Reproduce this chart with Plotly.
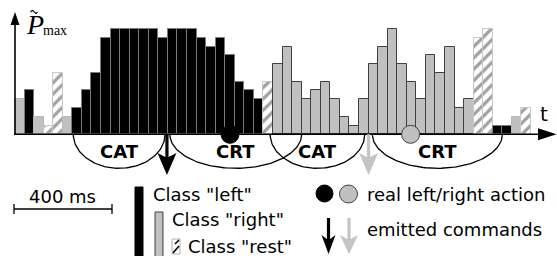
import numpy as np
import plotly.graph_objects as go

# ---------------- data ----------------
bar_class = list("RLRXXR" + "L" * 20 + "X" + "R" * 21 + "XX" + "LL" + "R" + "X")
bar_value = [4, 5, 2, 1, 7, 2,
             3, 5, 7, 11, 12, 12, 12, 12, 12, 11, 12, 12, 12, 11, 10, 11, 9, 6, 5, 4,
             6,
             8, 10, 6, 4, 5, 6, 4, 2, 1, 4, 8, 10, 12, 8, 6, 4, 9, 7, 10, 3, 4,
             11, 12,
             1, 1, 2, 3]
bar_index = list(range(len(bar_value)))

seg_names = ["CAT", "CRT", "CAT", "CRT"]
seg_start = [6.1, 16.2, 26.7, 37.4]     # in bar units
seg_end = [15.7, 30.0, 36.6, 51.0]
cmd_class = ["L", "R"]
cmd_pos = [15.9, 37.0]
act_class = ["L", "R"]
act_pos = [22.5, 41.4]

legend_labels = ['Class "left"', 'Class "right"', 'Class "rest"']
action_label = "real left/right action"
command_label = "emitted commands"
scale_label = "400 ms"

# ---------------- geometry ----------------
W, H = 557, 256
X0, BW = 15.0, 9.556
BASE, UH = 134.3, 8.77
GRAY = "#c0c0c0"
DARK = "#404040"


def dx(px):
    return (px - X0) / BW - 0.5


def dy(py):
    return (BASE - py) / UH


def u2px(u):
    return X0 + BW * u


def path(pts, close=True):
    s = "M " + " L ".join(f"{dx(x):.4f},{dy(y):.4f}" for x, y in pts)
    return s + (" Z" if close else "")


fill_map = {"L": "black", "R": GRAY, "X": "white"}
line_map = {"L": "#7a7a7a", "R": DARK, "X": "#c8c8c8"}
faint = {0, 2, 5, 52}
fills = [fill_map[c] for c in bar_class]
lines = ["#b8b8b8" if i in faint else line_map[c] for i, c in enumerate(bar_class)]
pats = ["/" if c == "X" else "" for c in bar_class]

fig = go.Figure()
fig.add_trace(go.Bar(
    x=bar_index, y=bar_value, width=1,
    marker=dict(color=fills, line=dict(color=lines, width=1),
                pattern=dict(shape=pats, fgcolor="black", bgcolor="white",
                             size=8, solidity=0.4)),
    hoverinfo="skip", showlegend=False))

shapes = []
annotations = []

# arcs
theta = np.linspace(0, np.pi, 80)
for s, e in zip(seg_start, seg_end):
    a, b = u2px(s), u2px(e)
    cx, rx = (a + b) / 2, (b - a) / 2
    px = cx + rx * np.cos(theta)
    py = BASE + 34 * np.sin(theta)
    fig.add_trace(go.Scatter(x=[dx(v) for v in px], y=[dy(v) for v in py],
                             mode="lines", line=dict(color="black", width=1.3),
                             hoverinfo="skip", showlegend=False))

# tilde over P (drawn as a small wave)
tx = np.linspace(30.5, 37.5, 20)
ty = 12 - 1.6 * np.sin(2 * np.pi * (tx - 30.5) / 7)
fig.add_trace(go.Scatter(x=[dx(v) for v in tx], y=[dy(v) for v in ty],
                         mode="lines", line=dict(color="black", width=1.1),
                         hoverinfo="skip", showlegend=False))

# axes
shapes.append(dict(type="line", x0=dx(14), y0=dy(BASE), x1=dx(540), y1=dy(BASE),
                   line=dict(color="black", width=1.6)))
shapes.append(dict(type="path", path=path([(556.5, BASE), (538, BASE - 6), (538, BASE + 6)]),
                   fillcolor="black", line=dict(width=0)))
shapes.append(dict(type="line", x0=dx(15), y0=dy(BASE), x1=dx(15), y1=dy(24),
                   line=dict(color="black", width=1.6)))
shapes.append(dict(type="path", path=path([(15, 12), (10.5, 25), (19.5, 25)]),
                   fillcolor="black", line=dict(width=0)))

# action circles
for c, u in zip(act_class, act_pos):
    cx = u2px(u)
    shapes.append(dict(type="circle", x0=dx(cx - 9), x1=dx(cx + 9),
                       y0=dy(BASE + 9), y1=dy(BASE - 9),
                       fillcolor="black" if c == "L" else GRAY,
                       line=dict(color="black" if c == "L" else DARK, width=1)))


def arrow(x, ytop, yhead, ytip, half, color):
    return dict(type="path",
                path=path([(x - 1.6, ytop), (x + 1.6, ytop), (x + 1.6, yhead + 4),
                           (x + half, yhead), (x, ytip), (x - half, yhead),
                           (x - 1.6, yhead + 4)]),
                fillcolor=color, line=dict(width=0))


# emitted commands
for c, u in zip(cmd_class, cmd_pos):
    shapes.append(arrow(u2px(u), BASE, 153, 175, 9.5, "black" if c == "L" else "#c4c4c4"))

# segment labels
for name, s, e in zip(seg_names, seg_start, seg_end):
    annotations.append(dict(x=dx(u2px((s + e) / 2)), y=dy(151), text=f"<b>{name}</b>",
                            showarrow=False, xanchor="center", yanchor="middle",
                            font=dict(family="DejaVu Sans", size=18, color="black")))

# axis labels
annotations.append(dict(x=dx(34.5), y=dy(24.5), text="<i>P</i>", showarrow=False,
                        xanchor="center", yanchor="middle",
                        font=dict(family="Liberation Serif", size=28, color="black")))
annotations.append(dict(x=dx(42), y=dy(30), text="max", showarrow=False,
                        xanchor="left", yanchor="middle",
                        font=dict(family="Liberation Serif", size=14, color="black")))
annotations.append(dict(x=dx(544), y=dy(114), text="t", showarrow=False,
                        xanchor="center", yanchor="middle",
                        font=dict(family="DejaVu Sans", size=20, color="black")))

# scale bar
shapes.append(dict(type="line", x0=dx(14), y0=dy(209), x1=dx(112), y1=dy(209),
                   line=dict(color="black", width=1.3)))
for xx in (14, 112):
    shapes.append(dict(type="line", x0=dx(xx), y0=dy(204), x1=dx(xx), y1=dy(214),
                       line=dict(color="black", width=1.3)))
annotations.append(dict(x=dx(62), y=dy(196), text=scale_label, showarrow=False,
                        xanchor="center", yanchor="middle",
                        font=dict(family="DejaVu Sans", size=18, color="black")))

# class legend
shapes.append(dict(type="rect", x0=dx(135), x1=dx(143), y0=dy(187), y1=dy(258),
                   fillcolor="black", line=dict(color="black", width=1)))
shapes.append(dict(type="rect", x0=dx(155), x1=dx(163), y0=dy(212), y1=dy(258),
                   fillcolor=GRAY, line=dict(color=DARK, width=1)))
shapes.append(dict(type="rect", x0=dx(172), x1=dx(180), y0=dy(239), y1=dy(254),
                   fillcolor="white", line=dict(color="#b0b0b0", width=1)))
shapes.append(dict(type="line", x0=dx(173), y0=dy(253), x1=dx(179), y1=dy(246),
                   line=dict(color="black", width=1.6)))
shapes.append(dict(type="line", x0=dx(175), y0=dy(244), x1=dx(179), y1=dy(240),
                   line=dict(color="black", width=1.6)))
for lbl, lx, ly in zip(legend_labels, (152, 171, 187), (194, 219, 246)):
    annotations.append(dict(x=dx(lx), y=dy(ly), text=lbl, showarrow=False,
                            xanchor="left", yanchor="middle",
                            font=dict(family="DejaVu Sans", size=18, color="black")))

# action / command legend
shapes.append(dict(type="circle", x0=dx(316), x1=dx(333), y0=dy(202), y1=dy(185),
                   fillcolor="black", line=dict(color="black", width=1)))
shapes.append(dict(type="circle", x0=dx(339.5), x1=dx(357.5), y0=dy(203), y1=dy(185),
                   fillcolor=GRAY, line=dict(color=DARK, width=1)))
shapes.append(arrow(328.5, 218, 235, 254, 7, "black"))
shapes.append(arrow(349, 218, 235, 254, 9, "#c4c4c4"))
annotations.append(dict(x=dx(366), y=dy(194), text=action_label, showarrow=False,
                        xanchor="left", yanchor="middle",
                        font=dict(family="DejaVu Sans", size=18, color="black")))
annotations.append(dict(x=dx(366), y=dy(229.5), text=command_label, showarrow=False,
                        xanchor="left", yanchor="middle",
                        font=dict(family="DejaVu Sans", size=18, color="black")))

for a in annotations:
    a.update(xref="x", yref="y", borderpad=0)
for s in shapes:
    s.update(xref="x", yref="y")

fig.update_layout(
    width=W, height=H, autosize=False,
    margin=dict(l=0, r=0, t=0, b=0, pad=0),
    paper_bgcolor="white", plot_bgcolor="white",
    bargap=0, showlegend=False,
    xaxis=dict(range=[dx(0), dx(W)], visible=False, fixedrange=True),
    yaxis=dict(range=[dy(H), dy(0)], visible=False, fixedrange=True),
    shapes=shapes, annotations=annotations,
)

fig.write_html("out.html", config={"displayModeBar": False},
               post_script="document.body.style.margin='0';document.body.style.overflow='hidden';")
